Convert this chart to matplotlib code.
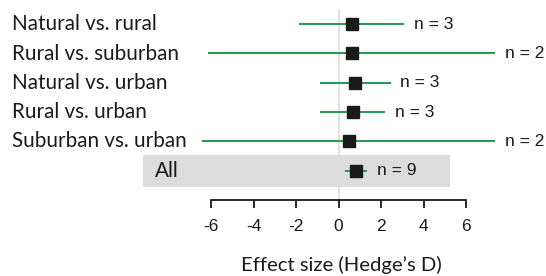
import matplotlib.pyplot as plt
from matplotlib.patches import Rectangle
from matplotlib.transforms import blended_transform_factory

# comparisons, top to bottom
labels = ['Natural vs. rural', 'Rural vs. suburban', 'Natural vs. urban',
          'Rural vs. urban', 'Suburban vs. urban', 'All']
effect = [0.63, 0.63, 0.79, 0.66, 0.49, 0.80]
ci_low = [-1.86, -6.13, -0.88, -0.88, -6.44, 0.28]
ci_high = [3.08, 7.37, 2.45, 2.20, 7.36, 1.35]
n_studies = [3, 2, 3, 3, 2, 9]
xticks = [-6, -4, -2, 0, 2, 4, 6]

green = '#1f9a52'
W, H = 546, 276

fig = plt.figure(figsize=(W / 100, H / 100), dpi=100)
ax = fig.add_axes([0, (H - 200) / H, 1, 200 / H])

# pixel mapping: x = 338.6 + 21.25*v, row i at y = 24 + 29.3*i
ax.set_xlim(-338.6 / 21.25, (W - 338.6) / 21.25)
ax.set_ylim(6.0, 6.0 - 200 / 29.3)

rows = list(range(len(labels)))

# grey band behind the pooled estimate
ax.add_patch(Rectangle((-9.2, 4.46), 14.42, 1.08, color='#dcdcdc', lw=0, zorder=0))
ax.vlines(0, -0.52, 6.0, color='#dedede', lw=1.3, zorder=1)

ax.hlines(rows, ci_low, ci_high, color=green, lw=1.4, zorder=2)
ax.plot(effect, rows, 's', color='#1a1a1a', ms=8.6, zorder=3)

for i, n in enumerate(n_studies):
    ax.annotate('n = %d' % n, (ci_high[i], rows[i]), xytext=(7, 0),
                textcoords='offset points', va='center', ha='left',
                fontsize=12.5, family='Liberation Sans', color='#1a1a1a')

trans = blended_transform_factory(fig.transFigure, ax.transData)
for i, lab in enumerate(labels):
    x = 155 / W if lab == 'All' else 12 / W
    ax.text(x, rows[i], lab, transform=trans, va='center', ha='left',
            fontsize=14.9, family='Lato', color='#1a1a1a')

for s in ['top', 'right', 'left']:
    ax.spines[s].set_visible(False)
ax.spines['bottom'].set_bounds(-6, 6)
ax.spines['bottom'].set_linewidth(1.3)
ax.spines['bottom'].set_color('#1a1a1a')
ax.set_yticks([])
ax.set_xticks(xticks)
ax.set_xticklabels([str(t) for t in xticks], family='Liberation Sans', fontsize=12.5)
ax.tick_params(axis='x', direction='out', length=6, width=1.3, pad=8,
               color='#1a1a1a', labelcolor='#1a1a1a')

fig.text(341 / W, 1 - 265 / H, 'Effect size (Hedge\u2019s D)', ha='center', va='center',
         fontsize=14.6, family='Lato', color='#1a1a1a')

fig.savefig('out.png', dpi=100)
